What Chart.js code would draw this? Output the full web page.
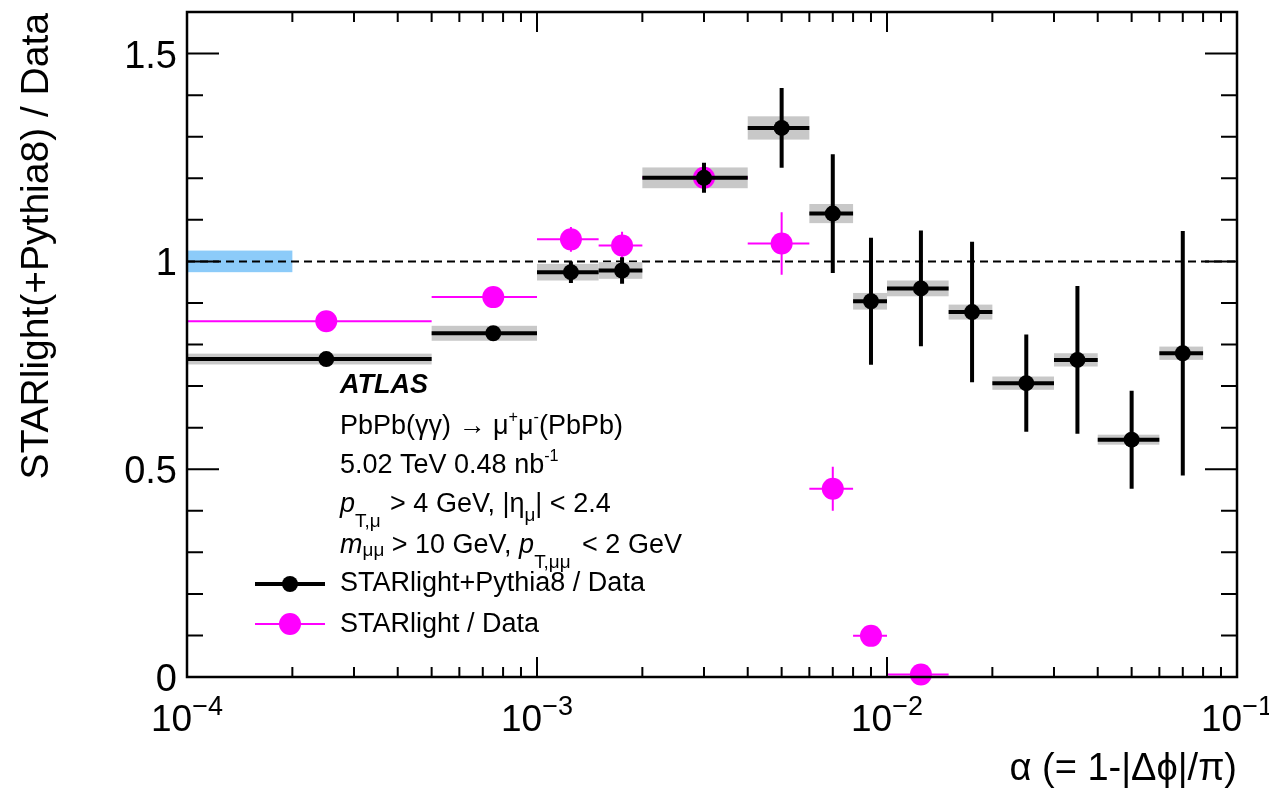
<!DOCTYPE html>
<html>
<head>
<meta charset="utf-8">
<script src="https://cdn.jsdelivr.net/npm/chart.js@4/dist/chart.umd.min.js"></script>
<style>
  body { margin: 0; background: #fff; }
  canvas { display: block; }
</style>
</head>
<body>
<canvas id="ratioChart" width="1269" height="789"></canvas>
<script>
// bins in alpha
const binLo = [1e-4, 5e-4, 1e-3, 1.5e-3, 2e-3, 4e-3, 6e-3, 8e-3, 1e-2, 1.5e-2, 2e-2, 3e-2, 4e-2, 6e-2];
const binHi = [5e-4, 1e-3, 1.5e-3, 2e-3, 4e-3, 6e-3, 8e-3, 1e-2, 1.5e-2, 2e-2, 3e-2, 4e-2, 6e-2, 8e-2];
const binX = [2.5e-4, 7.5e-4, 1.25e-3, 1.75e-3, 3e-3, 5e-3, 7e-3, 9e-3, 1.25e-2, 1.75e-2, 2.5e-2, 3.5e-2, 5e-2, 7e-2];

// STARlight+Pythia8 / Data
const pythiaRatio = [0.765, 0.827, 0.974, 0.978, 1.201, 1.321, 1.115, 0.904, 0.935, 0.878, 0.707, 0.763, 0.571, 0.779];
const pythiaStat = [0.01, 0.01, 0.026, 0.032, 0.036, 0.096, 0.143, 0.153, 0.139, 0.169, 0.117, 0.178, 0.118, 0.294];
const pythiaSyst = [0.013, 0.018, 0.02, 0.02, 0.025, 0.028, 0.023, 0.02, 0.019, 0.018, 0.016, 0.016, 0.012, 0.016];

// STARlight / Data (first 9 bins)
const starRatio = [0.856, 0.914, 1.053, 1.038, 1.201, 1.043, 0.453, 0.099, 0.006];
const starStat = [0.004, 0.005, 0.03, 0.033, 0.01, 0.075, 0.053, 0.01, 0.005];

// luminosity band at 1
const lumiBand = { lo: 1e-4, hi: 2e-4, err: 0.026 };

const xTicks = [1e-4, 1e-3, 1e-2, 1e-1];
const xTickExp = ['\u22124', '\u22123', '\u22122', '\u22121'];
const yTicks = [0, 0.5, 1, 1.5];
const yTickLabels = ['0', '0.5', '1', '1.5'];

const FONT = '"Liberation Sans", Arial, Helvetica, sans-serif';
const MAGENTA = '#ff00ff';
const GREY = '#c8c8c8';

function font(size, style) {
    return (style || '') + ' ' + size + 'px ' + FONT;
}

// draw a line of text made of pieces with italic / sub / sup
function drawRich(ctx, x, y, parts, size) {
    ctx.textAlign = 'left';
    ctx.textBaseline = 'alphabetic';
    parts.forEach(p => {
        const s = p.size ? p.size * size : size;
        ctx.font = font(s, p.style);
        ctx.fillText(p.t, x, y + (p.dy || 0));
        x += ctx.measureText(p.t).width + (p.gap || 0);
    });
}

const errorBars = {
    id: 'errorBars',
    beforeDatasetsDraw(chart) {
        const { ctx, chartArea } = chart;
        const xs = chart.scales.x, ys = chart.scales.y;
        ctx.save();
        // blue band
        ctx.fillStyle = '#8ccbf9';
        const bx0 = xs.getPixelForValue(lumiBand.lo), bx1 = xs.getPixelForValue(lumiBand.hi);
        const by0 = ys.getPixelForValue(1 + lumiBand.err), by1 = ys.getPixelForValue(1 - lumiBand.err);
        ctx.fillRect(bx0, by0, bx1 - bx0, by1 - by0);
        // dashed line at 1
        ctx.strokeStyle = '#000';
        ctx.lineWidth = 2;
        ctx.setLineDash([8, 5]);
        ctx.beginPath();
        ctx.moveTo(chartArea.left, ys.getPixelForValue(1));
        ctx.lineTo(chartArea.right, ys.getPixelForValue(1));
        ctx.stroke();
        ctx.setLineDash([]);
        // systematic boxes
        ctx.fillStyle = GREY;
        pythiaRatio.forEach((v, i) => {
            const x0 = xs.getPixelForValue(binLo[i]), x1 = xs.getPixelForValue(binHi[i]);
            const y0 = ys.getPixelForValue(v + pythiaSyst[i]), y1 = ys.getPixelForValue(v - pythiaSyst[i]);
            ctx.fillRect(x0, y0, x1 - x0, y1 - y0);
        });
        // STARlight errors
        ctx.strokeStyle = MAGENTA;
        ctx.lineWidth = 2;
        starRatio.forEach((v, i) => {
            const y = ys.getPixelForValue(v), x = xs.getPixelForValue(binX[i]);
            ctx.beginPath();
            ctx.moveTo(xs.getPixelForValue(binLo[i]), y);
            ctx.lineTo(xs.getPixelForValue(binHi[i]), y);
            ctx.moveTo(x, ys.getPixelForValue(v + starStat[i]));
            ctx.lineTo(x, ys.getPixelForValue(v - starStat[i]));
            ctx.stroke();
        });
        ctx.restore();
    },
    afterDatasetDraw(chart, args) {
        if (args.index !== 1) return;
        const { ctx } = chart;
        const xs = chart.scales.x, ys = chart.scales.y;
        ctx.save();
        ctx.strokeStyle = '#000';
        ctx.lineWidth = 4;
        pythiaRatio.forEach((v, i) => {
            const y = ys.getPixelForValue(v), x = xs.getPixelForValue(binX[i]);
            ctx.beginPath();
            ctx.moveTo(xs.getPixelForValue(binLo[i]), y);
            ctx.lineTo(xs.getPixelForValue(binHi[i]), y);
            ctx.moveTo(x, ys.getPixelForValue(v + pythiaStat[i]));
            ctx.lineTo(x, ys.getPixelForValue(v - pythiaStat[i]));
            ctx.stroke();
        });
        ctx.restore();
    }
};

const frameAndText = {
    id: 'frameAndText',
    afterDraw(chart) {
        const { ctx, chartArea: a } = chart;
        const xs = chart.scales.x, ys = chart.scales.y;
        ctx.save();
        ctx.strokeStyle = '#000';
        ctx.fillStyle = '#000';
        ctx.lineWidth = 2.5;
        ctx.strokeRect(a.left, a.top, a.right - a.left, a.bottom - a.top);

        // y ticks (left and right, inside)
        ctx.lineWidth = 2;
        ctx.beginPath();
        for (let k = 0; k <= 16; k++) {
            const v = k / 10;
            const y = ys.getPixelForValue(v);
            const len = (k % 5 === 0) ? 32 : 16;
            ctx.moveTo(a.left, y); ctx.lineTo(a.left + len, y);
            ctx.moveTo(a.right, y); ctx.lineTo(a.right - len, y);
        }
        // x ticks (bottom and top, inside)
        for (let d = -4; d < -1; d++) {
            for (let m = 1; m <= 10; m++) {
                const v = m * Math.pow(10, d);
                const x = xs.getPixelForValue(v);
                const len = (m === 1 || m === 10) ? 20 : 10;
                ctx.moveTo(x, a.bottom); ctx.lineTo(x, a.bottom - len);
                ctx.moveTo(x, a.top); ctx.lineTo(x, a.top + len);
            }
        }
        ctx.stroke();

        // y tick labels
        ctx.font = font(38);
        ctx.textAlign = 'right';
        ctx.textBaseline = 'alphabetic';
        yTicks.forEach((v, i) => {
            ctx.fillText(yTickLabels[i], a.left - 10, ys.getPixelForValue(v) + 14);
        });

        // x tick labels 10^n
        xTicks.forEach((v, i) => {
            ctx.font = font(37);
            const w1 = ctx.measureText('10').width;
            ctx.font = font(27);
            const w2 = ctx.measureText(xTickExp[i]).width;
            const x0 = xs.getPixelForValue(v) - (w1 + w2) / 2;
            drawRich(ctx, x0, 731, [{ t: '10' }, { t: xTickExp[i], size: 27 / 37, dy: -16 }], 37);
        });

        // axis titles
        ctx.font = font(38);
        ctx.textAlign = 'right';
        ctx.fillText('\u03b1 (= 1-|\u0394\u03d5|/\u03c0)', a.right, 780);
        ctx.save();
        ctx.translate(48, a.top + 1);
        ctx.rotate(-Math.PI / 2);
        ctx.textAlign = 'right';
        ctx.font = font(39);
        ctx.fillText('STARlight(+Pythia8) / Data', 0, 0);
        ctx.restore();

        // ATLAS label block
        const tx = 340, fs = 27;
        drawRich(ctx, tx, 393, [{ t: 'ATLAS', style: 'italic bold' }], fs);
        drawRich(ctx, tx, 434, [
            { t: 'PbPb(\u03b3\u03b3) \u2192 \u03bc' },
            { t: '+', size: 0.6, dy: -12 },
            { t: '\u03bc' },
            { t: '-', size: 0.6, dy: -12 },
            { t: '(PbPb)' }
        ], fs);
        drawRich(ctx, tx, 473, [
            { t: '5.02 TeV 0.48 nb' },
            { t: '-1', size: 0.6, dy: -12 }
        ], fs);
        drawRich(ctx, tx, 512, [
            { t: 'p', style: 'italic' },
            { t: 'T,\u03bc', size: 0.7, dy: 15, gap: 2 },
            { t: ' > 4 GeV, |\u03b7' },
            { t: '\u03bc', size: 0.7, dy: 9 },
            { t: '| < 2.4' }
        ], fs);
        drawRich(ctx, tx, 553, [
            { t: 'm', style: 'italic' },
            { t: '\u03bc\u03bc', size: 0.7, dy: 3 },
            { t: ' > 10 GeV, ' },
            { t: 'p', style: 'italic' },
            { t: 'T,\u03bc\u03bc', size: 0.7, dy: 15, gap: 4 },
            { t: ' < 2 GeV' }
        ], fs);

        // legend
        ctx.lineWidth = 4;
        ctx.strokeStyle = '#000';
        ctx.beginPath(); ctx.moveTo(255, 584); ctx.lineTo(325, 584); ctx.stroke();
        ctx.beginPath(); ctx.arc(290, 584, 8, 0, Math.PI * 2); ctx.fill();
        ctx.lineWidth = 2;
        ctx.strokeStyle = MAGENTA;
        ctx.fillStyle = MAGENTA;
        ctx.beginPath(); ctx.moveTo(255, 624); ctx.lineTo(325, 624); ctx.stroke();
        ctx.beginPath(); ctx.arc(290, 624, 11, 0, Math.PI * 2); ctx.fill();
        ctx.fillStyle = '#000';
        drawRich(ctx, tx, 591, [{ t: 'STARlight+Pythia8 / Data' }], fs);
        drawRich(ctx, tx, 632, [{ t: 'STARlight / Data' }], fs);
        ctx.restore();
    }
};

const chart = new Chart(document.getElementById('ratioChart'), {
    type: 'scatter',
    data: {
        datasets: [
            {
                label: 'STARlight+Pythia8 / Data',
                data: binX.map((x, i) => ({ x: x, y: pythiaRatio[i] })),
                pointRadius: 8,
                pointBackgroundColor: '#000',
                pointBorderWidth: 0,
                clip: false,
                order: 0
            },
            {
                label: 'STARlight / Data',
                data: starRatio.map((y, i) => ({ x: binX[i], y: y })),
                pointRadius: 11,
                pointBackgroundColor: MAGENTA,
                pointBorderWidth: 0,
                clip: false,
                order: 1
            }
        ]
    },
    options: {
        responsive: false,
        animation: false,
        layout: { padding: { left: 187, right: 32, top: 12, bottom: 112 } },
        plugins: { legend: { display: false }, tooltip: { enabled: false } },
        scales: {
            x: { type: 'logarithmic', min: 1e-4, max: 1e-1, display: false },
            y: { type: 'linear', min: 0, max: 1.6, display: false }
        }
    },
    plugins: [errorBars, frameAndText]
});
</script>
</body>
</html>
